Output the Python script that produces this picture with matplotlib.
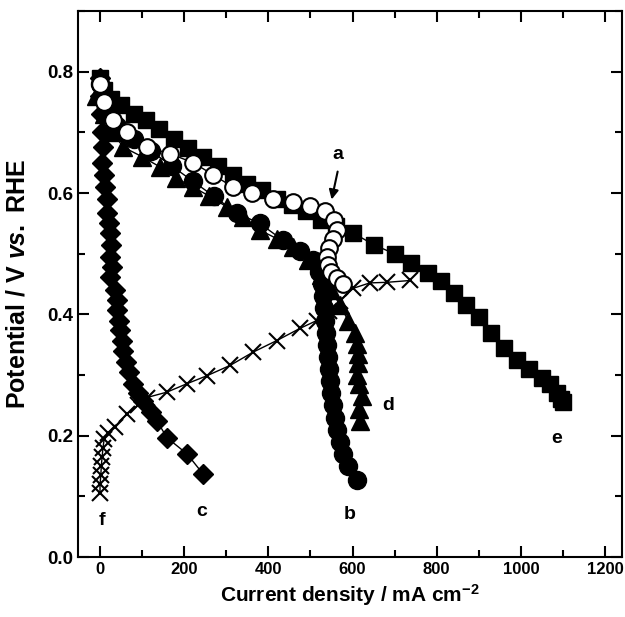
import numpy as np
import matplotlib
matplotlib.use("Agg")
import matplotlib.pyplot as plt
from matplotlib.ticker import MultipleLocator, FormatStrFormatter

plt.rcParams['font.family'] = ['Liberation Sans', 'DejaVu Sans']
plt.rcParams['font.weight'] = 'bold'
plt.rcParams['mathtext.fontset'] = 'custom'
plt.rcParams['mathtext.rm'] = 'Liberation Sans:bold'
plt.rcParams['mathtext.bf'] = 'Liberation Sans:bold'
plt.rcParams['mathtext.it'] = 'Liberation Sans:italic:bold'

# curve a: open circles
a_x = [0, 10, 30, 64, 111, 166, 222, 269, 316, 360, 410, 459, 500, 535, 555, 562, 554, 545, 540, 542, 550, 562, 578]
a_y = [0.78, 0.75, 0.72, 0.70, 0.676, 0.665, 0.65, 0.63, 0.61, 0.60, 0.59, 0.585, 0.578, 0.57, 0.555, 0.54, 0.525, 0.51, 0.495, 0.482, 0.47, 0.46, 0.45]

# curve b: filled circles
b_x = [0, 15, 40, 80, 120, 170, 220, 270, 325, 380, 435, 475, 506, 520, 527, 531, 533, 535, 537, 539, 541, 543, 546, 550, 554, 558, 563, 570, 578, 590, 610]
b_y = [0.78, 0.74, 0.71, 0.69, 0.67, 0.645, 0.62, 0.595, 0.567, 0.55, 0.522, 0.505, 0.489, 0.47, 0.45, 0.43, 0.41, 0.39, 0.37, 0.35, 0.33, 0.31, 0.29, 0.27, 0.25, 0.23, 0.21, 0.19, 0.17, 0.15, 0.127]

# curve c: filled diamonds
c_x = [0, 0, 2, 5, 7, 5, 10, 12, 17, 17, 22, 24, 26, 24, 28, 24, 36, 40, 40, 45, 48, 52, 55, 62, 70, 79, 90, 102, 120, 135, 159, 207, 245]
c_y = [0.79, 0.76, 0.73, 0.70, 0.676, 0.65, 0.63, 0.61, 0.59, 0.567, 0.55, 0.534, 0.515, 0.494, 0.478, 0.461, 0.44, 0.424, 0.407, 0.39, 0.374, 0.357, 0.34, 0.322, 0.305, 0.286, 0.27, 0.258, 0.24, 0.225, 0.197, 0.17, 0.137]

# curve d: filled triangles
d_x = [-10, 10, 30, 55, 100, 143, 180, 221, 260, 302, 340, 380, 420, 459, 495, 525, 550, 570, 590, 605, 610, 614, 612, 610, 615, 622, 615, 618]
d_y = [0.76, 0.73, 0.70, 0.676, 0.66, 0.643, 0.625, 0.61, 0.595, 0.577, 0.56, 0.539, 0.525, 0.511, 0.49, 0.465, 0.44, 0.415, 0.39, 0.37, 0.352, 0.335, 0.32, 0.30, 0.285, 0.265, 0.245, 0.225]

# curve e: filled squares
e_x = [0, 10, 25, 50, 80, 110, 140, 175, 210, 245, 280, 315, 350, 385, 420, 455, 490, 525, 560, 600, 650, 700, 740, 780, 810, 840, 870, 900, 930, 960, 990, 1020, 1050, 1070, 1085, 1095, 1100]
e_y = [0.79, 0.77, 0.755, 0.745, 0.73, 0.72, 0.705, 0.69, 0.675, 0.66, 0.645, 0.63, 0.615, 0.605, 0.59, 0.58, 0.57, 0.555, 0.545, 0.535, 0.515, 0.50, 0.485, 0.468, 0.455, 0.435, 0.415, 0.395, 0.37, 0.345, 0.325, 0.31, 0.295, 0.285, 0.27, 0.26, 0.255]

# curve f: crosses
f_x = [0, 0, 2, 3, 5, 7, 10, 20, 35, 64, 90, 111, 159, 207, 254, 309, 364, 420, 475, 515, 545, 570, 601, 641, 682, 737]
f_y = [0.105, 0.12, 0.135, 0.15, 0.165, 0.18, 0.195, 0.205, 0.215, 0.236, 0.25, 0.263, 0.272, 0.286, 0.299, 0.316, 0.338, 0.357, 0.377, 0.39, 0.405, 0.423, 0.443, 0.452, 0.453, 0.456]

fig = plt.figure(figsize=(6.25, 6.17), dpi=100)
ax = fig.add_axes([0.125, 0.097, 0.87, 0.885])

ax.plot(f_x, f_y, '-', color='black', lw=1, marker='x', ms=12, mew=1.5)
ax.plot(c_x, c_y, '-', color='black', lw=1, marker='D', ms=10, mfc='black')
ax.plot(b_x, b_y, '-', color='black', lw=1, marker='o', ms=13, mfc='black')
ax.plot(d_x, d_y, '-', color='black', lw=1, marker='^', ms=13, mfc='black')
ax.plot(e_x, e_y, '-', color='black', lw=1, marker='s', ms=12, mfc='black')
ax.plot(a_x, a_y, '-', color='black', lw=1, marker='o', ms=12, mfc='white', mew=1.5)

ax.set_xlim(-52, 1240)
ax.set_ylim(0, 0.9)
ax.xaxis.set_major_locator(MultipleLocator(200))
ax.xaxis.set_minor_locator(MultipleLocator(100))
ax.yaxis.set_major_locator(MultipleLocator(0.2))
ax.yaxis.set_minor_locator(MultipleLocator(0.1))
ax.yaxis.set_major_formatter(FormatStrFormatter('%.1f'))
ax.tick_params(which='both', direction='in', top=True, right=True, width=1.5)
ax.tick_params(axis='x', labelsize=12)
ax.tick_params(axis='y', labelsize=13.5)
ax.tick_params(which='major', length=8)
ax.tick_params(which='minor', length=5)
for s in ax.spines.values():
    s.set_linewidth(1.5)

ax.set_xlabel('Current density / mA cm$^{\\mathbf{-2}}$', fontsize=15, fontweight='bold', labelpad=4)
ax.set_ylabel('Potential / V $\\mathit{vs.}$ RHE', fontsize=18, fontweight='bold')
ax.yaxis.set_label_coords(-0.09, 0.5)

lbl = dict(fontsize=14, fontweight='bold', ha='center', va='center')
ax.text(566, 0.663, 'a', **lbl)
ax.annotate('', xy=(549, 0.585), xytext=(566, 0.640),
            arrowprops=dict(arrowstyle='-|>', color='black', lw=1.5, mutation_scale=14))
ax.text(594, 0.071, 'b', **lbl)
ax.text(242, 0.076, 'c', **lbl)
ax.text(685, 0.25, 'd', **lbl)
ax.text(1086, 0.195, 'e', **lbl)
ax.text(5, 0.06, 'f', **lbl)

fig.savefig('out.png', dpi=100)
